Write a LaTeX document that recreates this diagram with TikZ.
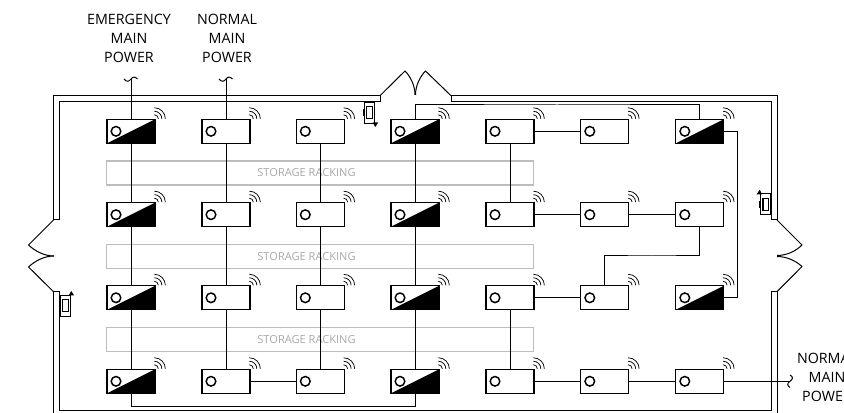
\documentclass[tikz,border=0pt]{standalone}
\usepackage{fontspec}
\setmainfont{Open Sans}
\usetikzlibrary{positioning}
\definecolor{rack}{HTML}{BDBDBD}
\definecolor{racktext}{HTML}{A8A8A8}

\tikzset{
  lum/.style={draw,fill=white,line width=.8pt,inner sep=0pt,outer sep=0pt,minimum width=36pt,minimum height=18pt,
    path picture={\draw[black,line width=1.1pt] ([xshift=-11.25pt]path picture bounding box.center) circle (3.6pt);}},
  emerg/.style={draw,fill=white,line width=.8pt,inner sep=0pt,outer sep=0pt,minimum width=36pt,minimum height=18pt,
    path picture={\fill[black] (path picture bounding box.south west) -- (path picture bounding box.north east) -- (path picture bounding box.south east) -- cycle;
      \draw[black,line width=1.1pt,fill=white] ([xshift=-11.25pt]path picture bounding box.center) circle (3.6pt);}},
  rackbox/.style={draw=rack,line width=.8pt,inner sep=0pt,minimum width=319.9pt,minimum height=18pt},
  racklabel/.style={text=racktext,font=\fontsize{8.3}{10}\selectfont},
  feed/.style={align=center,font=\fontsize{10.7}{14.25}\selectfont},
  wire/.style={line width=.75pt},
  wall/.style={line width=.75pt},
  wifi/.style={line width=.55pt},
}

\begin{document}
\begin{tikzpicture}[x=0.75pt,y=0.75pt,yscale=-1,xscale=1]
\clip (0,0) rectangle (844,413);

% walls
\draw[wall] (53.5,220) -- (53.5,95.7) -- (380,95.7) -- (380,102) -- (59.5,102) -- (59.5,220) -- cycle;
\draw[wall] (451,95.7) -- (777,95.7) -- (777,220) -- (771,220) -- (771,102) -- (451,102) -- cycle;
\draw[wall] (53.5,420) -- (53.5,291.7) -- (59.5,291.7) -- (59.5,411) -- (771,411) -- (771,291.7) -- (777,291.7) -- (777,420);

% doors
\draw[wall] (380,95.7) -- (405,71) .. controls (410,76) and (415,85) .. (415,95);
\draw[wall] (451,95.7) -- (425.5,71) .. controls (420.5,76) and (415.5,85) .. (415.5,95);
\draw[wall] (53.5,220) -- (28.5,245) .. controls (35,251) and (44,256) .. (54,256);
\draw[wall] (53.5,291.7) -- (28.5,267) .. controls (35,261) and (44,256) .. (54,256);
\draw[wall] (777,220) -- (802,245) .. controls (796,251) and (787,255.5) .. (777,255.5);
\draw[wall] (777,291.7) -- (802,266.5) .. controls (796,261) and (787,256.5) .. (777,256.5);

% sensors
\foreach \sx/\sy/\bx/\by in {369.2/112.5/1/1,765.7/204.3/-1/-1,65.2/305.5/1/-1}{
  \draw[line width=.6pt] (\sx-5,\sy-10.5) rectangle (\sx+5,\sy+10.5);
  \draw[line width=.9pt] (\sx-2.7,\sy-6) rectangle (\sx+3,\sy+6);
  \fill (\sx-6.5,\sy-3.5) rectangle (\sx-5,\sy+3.5);
  \fill (\sx+\bx*3.5,\sy+\by*10) -- (\sx+\bx*9,\sy+\by*10) -- (\sx+\bx*6,\sy+\by*14.5) -- cycle;
}

% racking
\node[rackbox] (rackA) at (320.2,173) {};
\node[rackbox] (rackB) at (320.2,256.2) {};
\node[rackbox] (rackC) at (320.2,339.6) {};
\node[racklabel] (rackAtxt) at (306.5,173) {STORAGE RACKING};
\node[racklabel] (rackBtxt) at (306.5,256.2) {STORAGE RACKING};
\node[racklabel] (rackCtxt) at (306.5,339.6) {STORAGE RACKING};

% fixtures
\foreach \r/\y in {1/131.3,2/214.7,3/297.8,4/381.3}{
  \foreach \c/\x in {1/131,4/415}
    \node[emerg] (lum\r\c) at (\x,\y) {};
  \foreach \c/\x in {2/226,3/320.3,5/510,6/604.8}
    \node[lum] (lum\r\c) at (\x,\y) {};
}
\node[emerg] (lum17) at (699.8,131.3) {};
\node[lum] (lum27) at (699.8,214.7) {};
\node[emerg] (lum37) at (699.8,297.8) {};
\node[lum] (lum47) at (699.8,381.3) {};

% wireless marks
\foreach \r in {1,2,3,4}
  \foreach \c in {1,2,3,4,5,6,7}
    \foreach \rr in {4,7.5,11}
      \draw[wifi] ([shift={(-.5pt,-.4pt)}]lum\r\c.north east) ++(0,-\rr) arc[start angle=-90,end angle=0,radius=\rr];

% feeds
\coordinate (feedE) at (131,79);
\coordinate (feedN) at (226,79);
\coordinate (feedR) at (790,381.3);
\coordinate (busA) at (557,105);
\coordinate (busB) at (652,256);
\coordinate (busC) at (273,406.3);
\coordinate (riser) at (737.5,214);
\draw[wire] (124,79) .. controls (127,82.5) and (129,81.5) .. (131,79) .. controls (133,76.5) and (135,76.5) .. (137.5,79);
\draw[wire] (219,79) .. controls (222,82.5) and (224,81.5) .. (226,79) .. controls (228,76.5) and (230,76.5) .. (232.5,79);
\draw[wire] (790,375) .. controls (793.5,377) and (793,379) .. (790,381.3) .. controls (787,383) and (787,385.5) .. (790,387.5);

% wiring
\draw[wire] (feedE) -- (lum11);
\draw[wire] (feedN) -- (lum12);
\foreach \c in {1,2,3,4}{
  \draw[wire] (lum1\c) -- (lum2\c);
  \draw[wire] (lum2\c) -- (lum3\c);
  \draw[wire] (lum3\c) -- (lum4\c);
}
\draw[wire] (lum15) -- (lum25);
\draw[wire] (lum35) -- (lum45);
\draw[wire] (lum15) -- (lum16);
\draw[wire] (lum25) -- (lum26);
\draw[wire] (lum26) -- (lum27);
\draw[wire] (lum35) -- (lum36);
\draw[wire] (lum42) -- (lum43);
\draw[wire] (lum45) -- (lum46);
\draw[wire] (lum46) -- (lum47);
\draw[wire] (lum47) -- (feedR);
\draw[wire] (lum14.north) |- (busA) -| (lum17.north);
\draw[wire] (lum27.south) |- (busB) -| (lum36.north);
\draw[wire] (lum41.south) |- (busC) -| (lum44.south);
\draw[wire] (lum17.east) -| (riser) |- (lum37.east);

% labels
\node[feed] (txtE) at (129,38) {EMERGENCY\\MAIN\\POWER};
\node[feed] (txtN) at (227,38) {NORMAL\\MAIN\\POWER};
\node[feed] (txtR) at (827,377.5) {NORMAL\\MAIN\\POWER};

\end{tikzpicture}
\end{document}
